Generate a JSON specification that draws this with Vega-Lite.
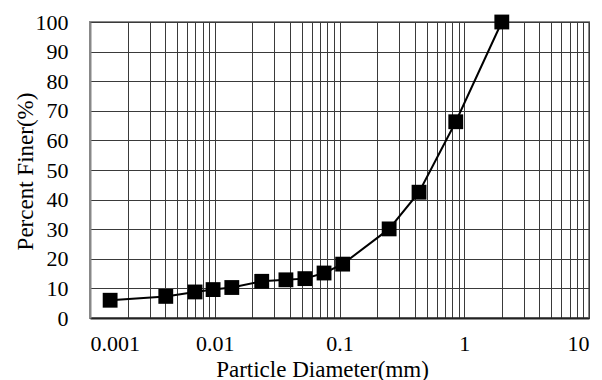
{
  "$schema": "https://vega.github.io/schema/vega-lite/v6.json",
  "autosize": "none",
  "padding": {"left": 90, "top": 22, "right": 13, "bottom": 62},
  "width": 499,
  "height": 296,
  "background": "white",
  "config": {
    "font": "Times New Roman, Liberation Serif, serif",
    "view": {"stroke": "#888888", "strokeWidth": 2}
  },
  "data": {
    "values": [
      {"d": 0.00145, "p": 6.0},
      {"d": 0.00405, "p": 7.3},
      {"d": 0.00695, "p": 8.8},
      {"d": 0.0097, "p": 9.6},
      {"d": 0.0137, "p": 10.3},
      {"d": 0.0238, "p": 12.4},
      {"d": 0.0372, "p": 12.9},
      {"d": 0.0528, "p": 13.3},
      {"d": 0.0752, "p": 15.2},
      {"d": 0.106, "p": 18.2},
      {"d": 0.25, "p": 30.1},
      {"d": 0.434, "p": 42.5},
      {"d": 0.855, "p": 66.3},
      {"d": 2.0, "p": 100}
    ]
  },
  "encoding": {
    "x": {
      "field": "d", "type": "quantitative",
      "scale": {"type": "log", "domain": [0.001, 10], "nice": false},
      "axis": {
        "title": "Particle Diameter(mm)",
        "titleFont": "Times New Roman, Liberation Serif, serif",
        "titleFontWeight": "normal",
        "titleColor": "black",
        "titleFontSize": 23,
        "titleBaseline": "alphabetic",
        "titleX": 232,
        "titleY": 58,
        "values": [0.001,0.002,0.003,0.004,0.005,0.006,0.007,0.008,0.009,0.01,0.02,0.03,0.04,0.05,0.06,0.07,0.08,0.09,0.1,0.2,0.3,0.4,0.5,0.6,0.7,0.8,0.9,1,2,3,4,5,6,7,8,9,10],
        "labelExpr": "abs(log(datum.value)/LN10 - round(log(datum.value)/LN10)) < 0.000001 ? format(datum.value, '~g') : ''",
        "labelOverlap": false,
        "labelFont": "Times New Roman, Liberation Serif, serif",
        "labelColor": "black",
        "labelFontSize": 22,
        "labelPadding": 15,
        "ticks": false,
        "grid": true,
        "gridColor": "#3a3a3a",
        "gridWidth": 1,
        "domainColor": "#222222",
        "domainWidth": 2
      }
    },
    "y": {
      "field": "p", "type": "quantitative",
      "scale": {"domain": [0, 100], "nice": false},
      "axis": {
        "title": "Percent Finer(%)",
        "titleFont": "Times New Roman, Liberation Serif, serif",
        "titleFontWeight": "normal",
        "titleColor": "black",
        "titleFontSize": 23,
        "titleBaseline": "middle",
        "titleX": -65,
        "titleY": 149,
        "values": [0,10,20,30,40,50,60,70,80,90,100],
        "labelFont": "Times New Roman, Liberation Serif, serif",
        "labelColor": "black",
        "labelFontSize": 22,
        "labelPadding": 22,
        "ticks": false,
        "grid": true,
        "gridColor": "#3a3a3a",
        "gridWidth": 1,
        "domainColor": "#888888",
        "domainWidth": 2
      }
    }
  },
  "layer": [
    {"mark": {"type": "line", "color": "black", "strokeWidth": 2}},
    {"mark": {"type": "square", "color": "black", "opacity": 1, "filled": true, "size": 220}}
  ]
}
